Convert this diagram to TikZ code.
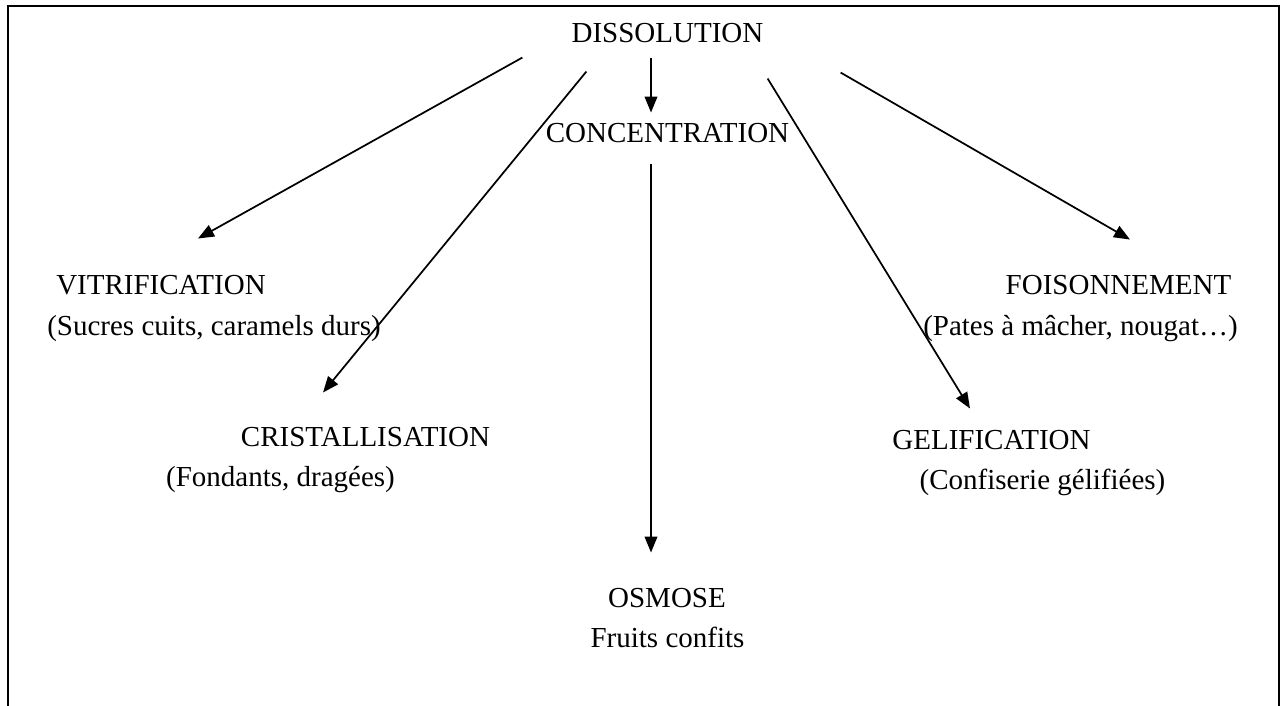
\documentclass[tikz,border=0pt]{standalone}
\usepackage{fontspec}
\setmainfont{Liberation Serif}
\usepackage{tikz}
\usetikzlibrary{arrows.meta}
\tikzstyle{proc}+=[inner sep=0pt,anchor=base,font=\fontsize{21.75}{30}\selectfont]
\tikzstyle{prod}+=[proc]
\tikzstyle{link}+=[line width=1.3pt,-{Triangle[length=12pt,width=9.5pt]}]
\tikzstyle{frame}+=[line width=2.2pt]

\begin{document}
\begin{tikzpicture}[x=0.75pt,y=-0.75pt]
    \useasboundingbox (0,0) rectangle (1286,706);
    \draw[frame] (8,706) -- (8,6) -- (1279,6) -- (1279,706);
    % processes
    \node[proc] (diss) at (667.5,43) {DISSOLUTION};
    \node[proc] (conc) at (667.5,143) {CONCENTRATION};
    \node[proc] (vitr) at (161,295) {VITRIFICATION};
    \node[prod] (vitrp) at (214,335) {(Sucres cuits, caramels durs)};
    \node[proc] (crist) at (365.5,446) {CRISTALLISATION};
    \node[prod] (cristp) at (280.5,486) {(Fondants, dragées)};
    \node[proc] (osm) at (667,607) {OSMOSE};
    \node[prod] (osmp) at (667.5,647) {Fruits confits};
    \node[proc] (gel) at (991.5,449) {GELIFICATION};
    \node[prod] (gelp) at (1042.5,489) {(Confiserie gélifiées)};
    \node[proc] (fois) at (1118.5,295) {FOISONNEMENT};
    \node[prod] (foisp) at (1080.5,335) {(Pates à mâcher, nougat…)};
    % arrows
    \draw[link] ([shift={(-49,14)}]diss.south west) -- ([shift={(37,-37)}]vitr.north);
    \draw[link] ([shift={(15,28)}]diss.south west) -- ([shift={(-42.5,-34)}]crist.north);
    \draw[link] ([shift={(-16.5,14)}]diss.south) -- ([shift={(-16.5,-11)}]conc.north);
    \draw[link] ([shift={(-16.5,20)}]conc.south) -- ([shift={(-16,-35)}]osm.north);
    \draw[link] ([shift={(4,35)}]diss.south east) -- ([shift={(-21.5,-21)}]gel.north);
    \draw[link] ([shift={(77,29)}]diss.south east) -- ([shift={(11.5,-36)}]fois.north);
\end{tikzpicture}
\end{document}
